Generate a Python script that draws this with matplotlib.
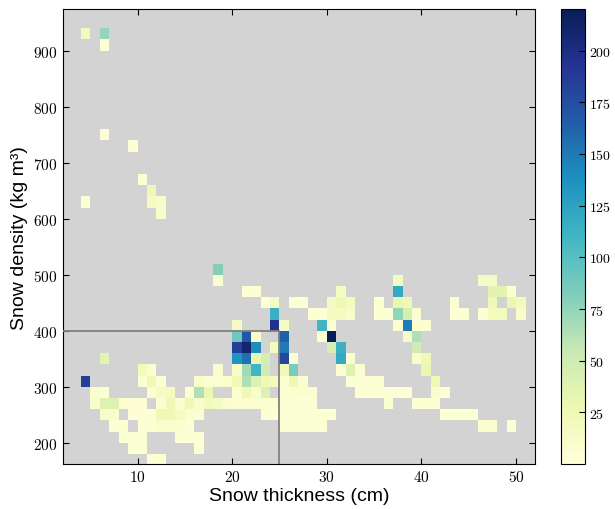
import numpy as np
import matplotlib
matplotlib.use("Agg")
from matplotlib import pyplot as plt

# histogram cells: left edge of thickness bin (cm), lower edge of density bin (kg m-3), count
cell_x = [4, 6, 6, 6, 9, 10, 11, 11, 12, 12, 4,
          18, 18,
          37, 46, 47,
          21, 22, 31, 37, 47, 48, 49,
          23, 24, 26, 27, 30, 31, 32, 35, 37, 38, 43, 47, 49, 50,
          24, 28, 29, 30, 31, 32, 35, 36, 37, 38, 39, 43, 44, 46, 47, 48, 50,
          20, 24, 25, 29, 30, 37, 38, 39, 40,
          20, 21, 22, 25, 29, 30, 38, 39,
          20, 21, 22, 24, 25, 30, 31, 39,
          6, 20, 21, 22, 23, 25, 26, 31, 32, 39, 40,
          10, 11, 18, 20, 21, 22, 23, 25, 26, 31, 32, 33, 40,
          4, 10, 11, 12, 16, 17, 18, 19, 20, 21, 22, 23, 24, 25, 26, 27, 32, 33, 34, 35, 41,
          5, 6, 11, 12, 13, 15, 16, 17, 20, 21, 22, 23, 25, 26, 27, 28, 33, 34, 35, 36, 37, 38, 41, 42,
          5, 6, 7, 8, 9, 10, 12, 13, 14, 15, 16, 17, 18, 19, 20, 21, 22, 23, 24, 25, 26, 27, 28, 36, 39, 40, 41,
          6, 7, 9, 10, 11, 12, 13, 14, 15, 16, 23, 24, 25, 26, 27, 28, 29, 30, 42, 43, 44, 45,
          7, 8, 10, 11, 12, 13, 14, 15, 25, 26, 27, 28, 29, 46, 47, 49,
          8, 9, 10, 14, 15, 16,
          9, 10, 16,
          11, 12]
cell_y = [920, 920, 900, 740, 720, 660, 640, 620, 620, 600, 620,
          500, 480,
          480, 480, 480,
          460, 460, 460, 460, 460, 460, 460,
          440, 440, 440, 440, 440, 440, 440, 440, 440, 440, 440, 440, 440, 440,
          420, 420, 420, 420, 420, 420, 420, 420, 420, 420, 420, 420, 420, 420, 420, 420, 420,
          400, 400, 400, 400, 400, 400, 400, 400, 400,
          380, 380, 380, 380, 380, 380, 380, 380,
          360, 360, 360, 360, 360, 360, 360, 360,
          340, 340, 340, 340, 340, 340, 340, 340, 340, 340, 340,
          320, 320, 320, 320, 320, 320, 320, 320, 320, 320, 320, 320, 320,
          300, 300, 300, 300, 300, 300, 300, 300, 300, 300, 300, 300, 300, 300, 300, 300, 300, 300, 300, 300, 300,
          280, 280, 280, 280, 280, 280, 280, 280, 280, 280, 280, 280, 280, 280, 280, 280, 280, 280, 280, 280, 280, 280, 280, 280,
          260, 260, 260, 260, 260, 260, 260, 260, 260, 260, 260, 260, 260, 260, 260, 260, 260, 260, 260, 260, 260, 260, 260, 260, 260, 260, 260,
          240, 240, 240, 240, 240, 240, 240, 240, 240, 240, 240, 240, 240, 240, 240, 240, 240, 240, 240, 240, 240, 240,
          220, 220, 220, 220, 220, 220, 220, 220, 220, 220, 220, 220, 220, 220, 220, 220,
          200, 200, 200, 200, 200, 200,
          180, 180, 180,
          160, 160]
cell_n = [20, 75, 5, 3, 3, 4, 25, 15, 12, 12, 5,
          80, 8,
          15, 15, 15,
          5, 5, 15, 120, 35, 35, 6,
          5, 15, 5, 5, 15, 28, 18, 5, 30, 25, 5, 25, 30, 20,
          115, 5, 5, 18, 18, 12, 5, 5, 75, 45, 6, 5, 5, 5, 20, 20, 12,
          15, 195, 15, 110, 5, 6, 150, 8, 6,
          90, 170, 10, 165, 5, 220, 12, 65,
          185, 210, 140, 20, 150, 45, 115, 50,
          35, 135, 155, 30, 45, 180, 5, 120, 6, 10, 25,
          20, 8, 8, 12, 70, 110, 50, 25, 85, 6, 40, 6, 30,
          185, 6, 25, 6, 12, 6, 6, 10, 25, 65, 40, 25, 20, 6, 25, 8, 5, 5, 5, 5, 25,
          8, 5, 6, 15, 18, 6, 65, 30, 6, 25, 12, 40, 5, 8, 8, 8, 5, 5, 5, 5, 5, 5, 10, 5,
          10, 40, 40, 6, 6, 6, 6, 25, 8, 25, 12, 20, 15, 8, 6, 6, 6, 6, 6, 5, 5, 5, 5, 5, 5, 5, 5,
          12, 10, 5, 5, 5, 25, 25, 18, 8, 6, 5, 5, 5, 5, 5, 5, 5, 5, 5, 5, 5, 5,
          5, 5, 5, 5, 10, 10, 8, 5, 5, 5, 5, 5, 5, 8, 8, 5,
          5, 5, 5, 5, 5, 5,
          5, 5, 5,
          5, 5]

x_edges = np.arange(2, 53, 1)
y_edges = np.arange(160, 1000, 20)

H, xe, ye = np.histogram2d(np.array(cell_x) + 0.5, np.array(cell_y) + 10,
                           bins=[x_edges, y_edges], weights=cell_n)
H = np.ma.masked_where(H == 0, H)

plt.rcParams['axes.formatter.use_mathtext'] = True
fig = plt.figure(figsize=(6.15, 5.10), dpi=100)
ax = fig.add_axes([0.102, 0.088, 0.768, 0.892])
cax = fig.add_axes([0.913, 0.088, 0.039, 0.892])

ax.set_facecolor('#d3d3d3')
mesh = ax.pcolormesh(xe, ye, H.T, cmap='YlGnBu', vmin=0, vmax=220)

# reference lines at 25 cm / 400 kg m-3
ax.plot([2, 25], [400, 400], color='#808080', lw=1.3, zorder=5)
ax.plot([25, 25], [100, 400], color='#808080', lw=1.3, zorder=5)

ax.set_xlim(2.1, 52)
ax.set_ylim(162, 974)
ax.set_xticks([10, 20, 30, 40, 50])
ax.set_yticks([200, 300, 400, 500, 600, 700, 800, 900])
ax.tick_params(direction='in', top=True, right=True, length=4, labelsize=11)
for lab in ax.get_xticklabels() + ax.get_yticklabels():
    lab.set_fontfamily('cmr10')

ax.set_xlabel('Snow thickness (cm)', fontsize=14, family='Liberation Sans', labelpad=2)
ax.set_ylabel('Snow density (kg m³)', fontsize=14, family='Liberation Sans', labelpad=4)

cb = fig.colorbar(mesh, cax=cax)
cb.set_ticks([25, 50, 75, 100, 125, 150, 175, 200])
cax.tick_params(direction='in', length=4, labelsize=10, pad=2.5)
for lab in cax.get_yticklabels():
    lab.set_fontfamily('cmr10')

fig.savefig('out.png', dpi=100)
